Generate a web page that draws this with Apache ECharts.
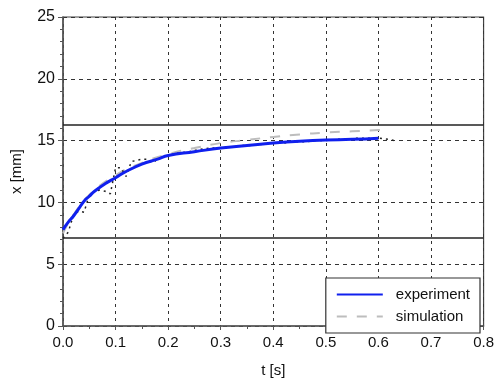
<!DOCTYPE html>
<html>
<head>
<meta charset="utf-8">
<script src="https://cdn.jsdelivr.net/npm/echarts@6/dist/echarts.min.js"></script>
<style>
  html, body { margin: 0; padding: 0; background: #fff; }
  #chart { width: 497px; height: 383px; }
</style>
</head>
<body>
<div id="chart"></div>
<script>
// t [s] / x [mm]
const expT = [0, 0.01, 0.02, 0.03, 0.04, 0.05, 0.06, 0.08, 0.10, 0.12, 0.15, 0.18, 0.20, 0.25, 0.30, 0.35, 0.40, 0.45, 0.50, 0.55, 0.60]
const expX = [7.8, 8.4, 8.9, 9.5, 10.1, 10.5, 10.9, 11.5, 12.0, 12.5, 13.1, 13.5, 13.8, 14.1, 14.4, 14.6, 14.8, 14.95, 15.05, 15.1, 15.2]

const simT = [0, 0.02, 0.05, 0.1, 0.15, 0.2, 0.25, 0.3, 0.35, 0.4, 0.45, 0.5, 0.55, 0.6, 0.62]
const simX = [7.5, 9.0, 10.6, 12.2, 13.2, 13.9, 14.4, 14.8, 15.05, 15.3, 15.5, 15.65, 15.75, 15.85, 15.9]

// noisy dotted trace
const rawT = [0, 0.01, 0.02, 0.03, 0.04, 0.05, 0.06, 0.07, 0.08, 0.09, 0.10, 0.11, 0.12, 0.13, 0.14, 0.15, 0.16, 0.17, 0.18, 0.19, 0.20, 0.22, 0.24, 0.26, 0.28, 0.30, 0.32, 0.34, 0.36, 0.38, 0.40, 0.42, 0.44, 0.46, 0.48, 0.50, 0.52, 0.54, 0.56, 0.58, 0.60, 0.62, 0.63]
const rawX = [7.1, 7.6, 9.0, 9.3, 9.2, 10.6, 10.9, 11.0, 10.9, 10.7, 12.8, 12.8, 12.1, 13.3, 13.4, 13.5, 13.5, 13.2, 13.5, 13.7, 13.8, 14.0, 14.1, 14.3, 14.4, 14.4, 14.5, 14.6, 14.6, 14.7, 14.8, 14.8, 14.9, 14.9, 15.0, 15.0, 15.1, 15.1, 15.2, 15.2, 15.2, 15.1, 15.0]

const limits = [16.3, 7.1]

const xTicks = [0, 0.1, 0.2, 0.3, 0.4, 0.5, 0.6, 0.7, 0.8]
const yTicks = [0, 5, 10, 15, 20, 25]

function pairs(a, b) { return a.map((v, i) => [v, b[i]]) }

const font = "'Liberation Sans', Arial, sans-serif"
const chart = echarts.init(document.getElementById("chart"))

const option = {
  animation: false,
  backgroundColor: "#fff",
  textStyle: { fontFamily: font },
  grid: {
    left: 63, right: 10, top: 17, bottom: 48,
    show: true, borderColor: "#444", borderWidth: 1.2
  },
  legend: {
    data: ["experiment", "simulation"],
    orient: "vertical",
    right: 17, bottom: 50,
    padding: [9, 10, 9, 10],
    itemGap: 7,
    itemWidth: 46, itemHeight: 14,
    itemStyle: { opacity: 0 },
    backgroundColor: "#fff",
    borderColor: "#333", borderWidth: 1.2, borderRadius: 0,
    textStyle: { fontSize: 15, color: "#111", fontFamily: font, padding: [0, 0, 0, 8] }
  },
  xAxis: {
    type: "value",
    min: xTicks[0], max: xTicks[xTicks.length - 1], interval: 0.1,
    name: "t [s]", nameLocation: "middle", nameGap: 37,
    nameTextStyle: { fontSize: 15, color: "#111" },
    axisLine: { show: true, lineStyle: { color: "#555", width: 1.5 } },
    axisTick: { show: true, length: 4, lineStyle: { color: "#555" } },
    minorTick: { show: true, splitNumber: 2, length: 3, lineStyle: { color: "#555" } },
    axisLabel: { fontSize: 15, color: "#111", margin: 9, formatter: v => v.toFixed(1) },
    splitLine: { show: true, lineStyle: { color: "#333", type: [3, 4], width: 1 } }
  },
  yAxis: {
    type: "value",
    min: yTicks[0], max: yTicks[yTicks.length - 1], interval: 5,
    name: "x [mm]", nameLocation: "middle", nameGap: 39,
    nameTextStyle: { fontSize: 15, color: "#111" },
    axisLine: { show: true, lineStyle: { color: "#555", width: 1.5 } },
    axisTick: { show: true, length: 5, lineStyle: { color: "#555" } },
    minorTick: { show: true, splitNumber: 5, length: 3, lineStyle: { color: "#555" } },
    axisLabel: { fontSize: 16, color: "#111", margin: 8 },
    splitLine: { show: true, lineStyle: { color: "#333", type: [4, 4], width: 1 } }
  },
  series: [
    {
      name: "trace",
      type: "line",
      data: pairs(rawT, rawX),
      symbol: "none",
      lineStyle: { color: "#222", width: 1.5, type: [2, 4] },
      z: 3,
      markLine: {
        silent: true,
        symbol: "none",
        label: { show: false },
        lineStyle: { color: "#222", width: 1.5, type: "solid" },
        data: limits.map(v => ({ yAxis: v }))
      }
    },
    {
      name: "simulation",
      type: "line",
      data: pairs(simT, simX),
      symbol: "none",
      smooth: true,
      itemStyle: { color: "#bdbdbd" },
      lineStyle: { color: "#bdbdbd", width: 2, type: [10, 10] },
      z: 2
    },
    {
      name: "experiment",
      type: "line",
      data: pairs(expT, expX),
      symbol: "none",
      smooth: true,
      itemStyle: { color: "#1020ee" },
      lineStyle: { color: "#1020ee", width: 3 },
      z: 4
    }
  ]
}

chart.setOption(option)
</script>
</body>
</html>
